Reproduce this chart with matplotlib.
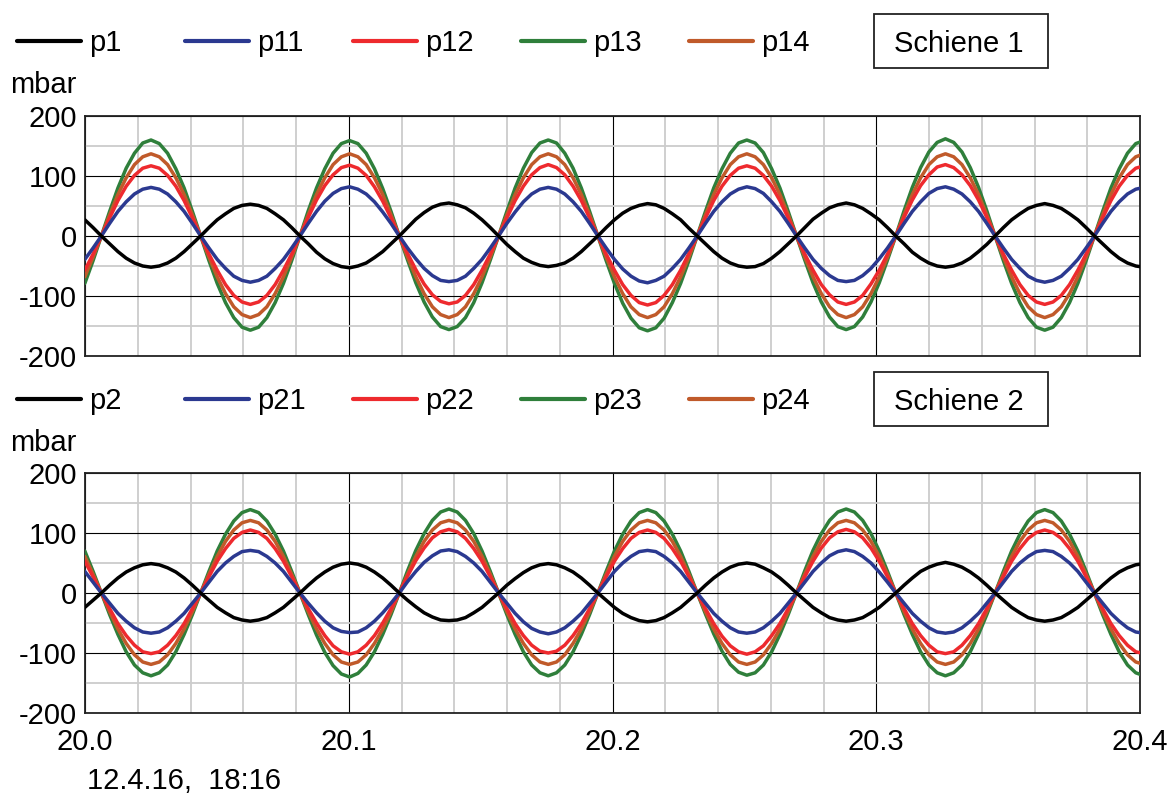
import numpy as np
import matplotlib
matplotlib.use("Agg")
import matplotlib.pyplot as plt
from matplotlib.lines import Line2D
from matplotlib.patches import Rectangle
from matplotlib.ticker import MultipleLocator

plt.rcParams['font.family'] = ['Liberation Sans', 'DejaVu Sans']

# ---------------- data (mbar), sampled every t_step seconds ----------------
t_start = 19.99993
t_step = 0.0031375

# Schiene 1
p1 = [27, 14,
      0, -13, -26, -37, -45, -50, -52, -50, -45, -37, -26, -13, 0, 14, 27, 37, 46, 51, 53, 51, 46, 37, 27, 14,
      0, -13, -27, -38, -46, -51, -53, -50, -45, -36, -26, -13, 0, 14, 28, 39, 48, 53, 55, 52, 47, 38, 27, 14,
      0, -14, -26, -37, -44, -49, -51, -49, -45, -37, -26, -13, 0, 14, 27, 38, 46, 51, 54, 52, 46, 37, 27, 13,
      0, -13, -26, -37, -45, -50, -52, -51, -46, -37, -26, -13, 0, 14, 28, 38, 47, 52, 55, 52, 46, 37, 27, 14,
      0, -13, -27, -37, -45, -50, -52, -50, -45, -37, -26, -14, 0, 14, 27, 37, 46, 51, 54, 51, 46, 37, 27, 14,
      0, -13, -26, -37, -45, -50, -52]
p11 = [-39, -20,
       0, 21, 41, 57, 70, 78, 81, 78, 70, 57, 41, 21, 0, -20, -39, -54, -67, -74, -77, -74, -67, -54, -39, -20,
       0, 21, 41, 58, 71, 79, 82, 78, 70, 57, 40, 21, 0, -20, -38, -54, -66, -74, -76, -74, -67, -54, -39, -20,
       0, 21, 40, 57, 70, 78, 81, 78, 70, 57, 41, 21, 0, -20, -39, -55, -67, -75, -78, -74, -67, -54, -39, -20,
       0, 21, 41, 57, 70, 78, 82, 79, 71, 57, 41, 21, 0, -20, -39, -54, -66, -74, -76, -74, -66, -54, -38, -20,
       0, 21, 41, 57, 71, 79, 82, 78, 70, 57, 41, 21, 0, -20, -39, -54, -67, -74, -77, -74, -67, -54, -39, -20,
       0, 21, 41, 57, 70, 78, 81]
p12 = [-57, -30,
       0, 30, 59, 83, 101, 113, 117, 113, 101, 83, 59, 30, 0, -30, -57, -81, -99, -110, -114, -110, -99, -81, -57, -30,
       0, 31, 60, 84, 102, 114, 118, 113, 101, 82, 58, 30, 0, -29, -56, -80, -98, -109, -113, -110, -99, -81, -57, -30,
       0, 30, 59, 83, 102, 114, 119, 114, 102, 83, 59, 30, 0, -30, -57, -81, -99, -111, -115, -111, -99, -81, -57, -29,
       0, 30, 59, 83, 101, 113, 117, 113, 101, 83, 59, 30, 0, -30, -57, -81, -98, -110, -114, -110, -99, -80, -57, -30,
       0, 31, 60, 84, 102, 115, 119, 114, 102, 84, 60, 31, 0, -30, -57, -81, -99, -110, -114, -110, -99, -81, -57, -30,
       0, 30, 59, 83, 101, 113, 117]
p13 = [-79, -41,
       0, 41, 80, 113, 138, 155, 160, 154, 138, 112, 80, 41, 0, -41, -79, -111, -136, -152, -157, -152, -136, -111, -79, -41,
       0, 42, 80, 112, 138, 154, 159, 154, 138, 112, 79, 41, 0, -40, -78, -110, -135, -151, -156, -151, -136, -111, -78, -40,
       0, 41, 80, 113, 139, 155, 160, 155, 138, 113, 80, 41, 0, -41, -79, -112, -137, -153, -158, -153, -137, -111, -79, -41,
       0, 41, 80, 112, 138, 155, 160, 155, 139, 112, 80, 41, 0, -40, -78, -110, -135, -151, -156, -151, -135, -110, -78, -40,
       0, 42, 81, 114, 140, 156, 162, 156, 140, 114, 81, 42, 0, -41, -79, -111, -136, -152, -157, -152, -136, -111, -79, -41,
       0, 41, 80, 112, 138, 154, 159]
p14 = [-68, -35,
       0, 35, 69, 97, 119, 132, 137, 132, 119, 97, 69, 35, 0, -35, -68, -96, -118, -131, -136, -131, -118, -96, -68, -35,
       0, 35, 69, 97, 119, 132, 137, 132, 119, 97, 69, 35, 0, -35, -68, -96, -118, -131, -136, -131, -118, -96, -68, -35,
       0, 35, 69, 97, 119, 132, 137, 132, 119, 97, 69, 35, 0, -35, -68, -96, -118, -131, -136, -131, -118, -96, -68, -35,
       0, 35, 69, 97, 119, 132, 137, 132, 119, 97, 69, 35, 0, -35, -68, -96, -118, -131, -136, -131, -118, -96, -68, -35,
       0, 35, 69, 97, 119, 132, 137, 132, 119, 97, 69, 35, 0, -35, -68, -96, -118, -131, -136, -131, -118, -96, -68, -35,
       0, 35, 69, 97, 119, 132, 137]

# Schiene 2
p2 = [-24, -12,
      0, 13, 25, 35, 42, 47, 49, 47, 42, 35, 25, 13, 0, -12, -24, -33, -41, -45, -47, -45, -41, -33, -24, -12,
      0, 13, 25, 35, 43, 48, 50, 48, 43, 35, 25, 13, 0, -12, -23, -33, -40, -45, -46, -45, -41, -33, -24, -12,
      0, 13, 24, 34, 42, 47, 49, 47, 42, 35, 25, 13, 0, -12, -24, -34, -41, -46, -48, -46, -41, -33, -24, -12,
      0, 13, 25, 35, 43, 48, 50, 48, 42, 35, 25, 13, 0, -12, -24, -33, -41, -45, -47, -45, -41, -33, -24, -12,
      0, 13, 25, 36, 43, 48, 51, 48, 43, 35, 25, 13, 0, -12, -24, -33, -41, -45, -47, -45, -41, -33, -24, -12,
      0, 13, 25, 35, 42, 47, 49]
p21 = [36, 18,
       0, -17, -34, -47, -58, -65, -67, -65, -58, -47, -34, -17, 0, 18, 36, 50, 61, 69, 71, 69, 61, 50, 36, 18,
       0, -17, -33, -47, -58, -64, -66, -65, -58, -47, -33, -17, 0, 19, 36, 51, 62, 70, 72, 69, 61, 50, 36, 18,
       0, -17, -34, -48, -59, -65, -68, -65, -58, -47, -34, -17, 0, 18, 36, 50, 61, 69, 71, 69, 61, 50, 36, 18,
       0, -17, -34, -47, -58, -65, -67, -65, -58, -47, -34, -17, 0, 18, 36, 50, 62, 69, 72, 69, 61, 50, 35, 18,
       0, -17, -34, -47, -58, -65, -67, -65, -58, -47, -34, -17, 0, 18, 36, 50, 61, 69, 71, 69, 61, 50, 36, 18,
       0, -17, -34, -47, -58, -65, -67]
p22 = [53, 27,
       0, -26, -51, -71, -87, -98, -101, -98, -87, -71, -51, -26, 0, 27, 53, 74, 91, 101, 105, 101, 91, 74, 53, 27,
       0, -26, -50, -71, -88, -98, -102, -98, -87, -71, -50, -26, 0, 28, 54, 75, 92, 102, 106, 102, 91, 74, 53, 27,
       0, -26, -51, -71, -87, -97, -100, -97, -87, -71, -51, -26, 0, 27, 53, 74, 91, 101, 105, 101, 91, 74, 53, 27,
       0, -26, -51, -72, -88, -98, -102, -98, -88, -71, -51, -26, 0, 27, 53, 75, 92, 102, 106, 102, 92, 75, 53, 27,
       0, -26, -51, -71, -87, -98, -101, -98, -87, -71, -51, -26, 0, 27, 53, 74, 91, 101, 105, 101, 91, 74, 53, 27,
       0, -26, -51, -71, -87, -98, -101]
p23 = [70, 36,
       0, -36, -69, -98, -120, -133, -138, -133, -120, -98, -69, -36, 0, 36, 70, 98, 120, 134, 139, 134, 120, 98, 70, 36,
       0, -36, -70, -99, -121, -135, -140, -134, -120, -98, -69, -36, 0, 37, 71, 99, 121, 135, 140, 135, 121, 99, 70, 36,
       0, -36, -69, -98, -120, -133, -138, -133, -120, -98, -69, -36, 0, 36, 70, 98, 120, 134, 139, 134, 120, 98, 70, 36,
       0, -35, -68, -97, -119, -132, -137, -133, -120, -98, -69, -36, 0, 37, 71, 99, 121, 135, 140, 135, 121, 99, 70, 36,
       0, -36, -69, -98, -120, -133, -138, -133, -120, -98, -69, -36, 0, 36, 70, 98, 120, 134, 139, 134, 120, 98, 70, 36,
       0, -36, -69, -98, -120, -133, -138]
p24 = [61, 31,
       0, -31, -60, -84, -103, -115, -119, -115, -103, -84, -60, -31, 0, 31, 61, 86, 105, 117, 121, 117, 105, 86, 61, 31,
       0, -31, -60, -84, -103, -115, -119, -115, -103, -84, -60, -31, 0, 31, 61, 86, 105, 117, 121, 117, 105, 86, 61, 31,
       0, -31, -60, -84, -103, -115, -119, -115, -103, -84, -60, -31, 0, 31, 61, 86, 105, 117, 121, 117, 105, 86, 61, 31,
       0, -31, -60, -84, -103, -115, -119, -115, -103, -84, -60, -31, 0, 31, 61, 86, 105, 117, 121, 117, 105, 86, 61, 31,
       0, -31, -60, -84, -103, -115, -119, -115, -103, -84, -60, -31, 0, 31, 61, 86, 105, 117, 121, 117, 105, 86, 61, 31,
       0, -31, -60, -84, -103, -115, -119]

labels_1 = ['p1', 'p11', 'p12', 'p13', 'p14']
labels_2 = ['p2', 'p21', 'p22', 'p23', 'p24']
panel_titles = ['Schiene 1', 'Schiene 2']
x_ticks = [20.0, 20.1, 20.2, 20.3, 20.4]
x_tick_labels = ['20.0', '20.1', '20.2', '20.3', '20.4']
y_ticks = [-200, -100, 0, 100, 200]
y_tick_labels = ['-200', '-100', '0', '100', '200']
y_unit = 'mbar'
timestamp = '12.4.16,  18:16'

# ---------------- styling ----------------
colors = ['#000000', '#2b3990', '#ee2a2e', '#2f7f3b', '#c05a2a']
W, H = 1169, 794
FS = 21


def fx(x):
    return x / W


def fy(y):
    return 1 - y / H


fig = plt.figure(figsize=(W / 100, H / 100), dpi=100)
ax1 = fig.add_axes([fx(85), fy(356), fx(1140) - fx(85), fy(116) - fy(356)])
ax2 = fig.add_axes([fx(85), fy(713), fx(1140) - fx(85), fy(473) - fy(713)])

panels = [(ax1, [p1, p11, p12, p13, p14], labels_1),
          (ax2, [p2, p21, p22, p23, p24], labels_2)]

draw_order = [3, 4, 2, 1, 0]
for ax, series, labs in panels:
    for z, i in enumerate(draw_order):
        v = np.asarray(series[i], dtype=float)
        t = t_start + t_step * np.arange(len(v))
        ax.plot(t, v, color=colors[i], lw=2.5, solid_joinstyle='round',
                solid_capstyle='round', zorder=3 + z * 0.1)
    ax.set_xlim(20.0, 20.4)
    ax.set_ylim(-200, 200)
    ax.set_xticks(x_ticks)
    ax.set_yticks(y_ticks)
    ax.set_yticklabels(y_tick_labels)
    ax.xaxis.set_minor_locator(MultipleLocator(0.02))
    ax.yaxis.set_minor_locator(MultipleLocator(50))
    ax.grid(which='minor', color='#cccccc', lw=1.3)
    ax.grid(which='major', color='#000000', lw=0.8)
    ax.set_axisbelow(True)
    ax.tick_params(which='both', length=0, labelsize=FS, pad=6)
    for sp in ax.spines.values():
        sp.set_linewidth(1.3)
        sp.set_color('#222222')

ax1.tick_params(axis='x', labelbottom=False)
ax2.set_xticklabels(x_tick_labels)
ax2.tick_params(axis='x', pad=11)

# legends, unit labels and panel title boxes
for row, (ax, series, labs) in enumerate(panels):
    dy = row * 358
    for i, lab in enumerate(labs):
        x0 = 17 + 168 * i
        fig.add_artist(Line2D([fx(x0), fx(x0 + 64)], [fy(41 + dy), fy(41 + dy)],
                              transform=fig.transFigure, color=colors[i], lw=3.0,
                              solid_capstyle='round'))
        fig.text(fx(x0 + 72), fy(51 + dy), lab, fontsize=FS, va='baseline', ha='left')
    fig.text(fx(10), fy(93 + dy), y_unit, fontsize=FS, va='baseline', ha='left')
    fig.add_artist(Rectangle((fx(874), fy(68 + dy)), fx(1048) - fx(874), fy(14) - fy(68),
                             transform=fig.transFigure, fill=False, edgecolor='#222222', lw=1.3))
    fig.text(fx(959), fy(52 + dy), panel_titles[row], fontsize=FS, va='baseline', ha='center')

fig.text(fx(87), fy(789), timestamp, fontsize=FS, va='baseline', ha='left')

fig.savefig('out.png', dpi=100)
